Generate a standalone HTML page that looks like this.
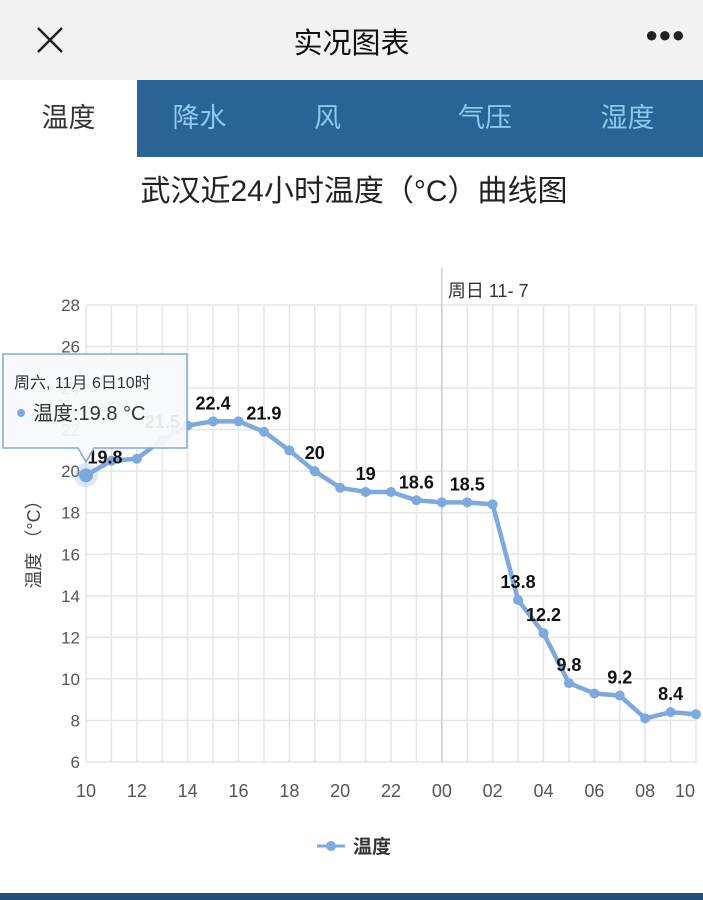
<!DOCTYPE html>
<html><head><meta charset="utf-8"><style>
body{margin:0;width:703px;height:900px;overflow:hidden;background:#fff;font-family:"Liberation Sans","Noto Sans CJK SC",sans-serif;position:relative}
.hdr{position:absolute;left:0;top:0;width:703px;height:80px;background:#f2f2f2}
.tabs{position:absolute;left:0;top:80px;width:703px;height:77px;background:#2a6496}
.tab{position:absolute;top:0;height:77px;line-height:77px;font-size:27px;color:#8ec7ef;text-align:center}
</style></head><body>
<div class="hdr">
<svg style="position:absolute;left:36px;top:26px" width="28" height="28"><path d="M2,2 L26,26 M26,2 L2,26" stroke="#222" stroke-width="2.5"/></svg>
<div style="position:absolute;left:0;width:703px;top:20px;text-align:center;font-size:29px;color:#111">实况图表</div>
<div style="position:absolute;left:645px;top:22px;font-size:22px;color:#222;letter-spacing:0px">●●●</div>
</div>
<div class="tabs">
<div class="tab" style="left:0;width:137px;background:#fff;color:#333">温度</div>
<div class="tab" style="left:137px;width:125px">降水</div>
<div class="tab" style="left:265px;width:125px">风</div>
<div class="tab" style="left:420px;width:130px">气压</div>
<div class="tab" style="left:565px;width:125px">湿度</div>
</div>
<div style="position:absolute;left:0;top:893px;width:703px;height:7px;background:#1f4f78"></div>
<svg id="c" width="703" height="900" style="position:absolute;left:0;top:0"></svg>
<script>
const hours=["10","11","12","13","14","15","16","17","18","19","20","21","22","23","00","01","02","03","04","05","06","07","08","09","10"];
const temps=[19.8,20.5,20.6,21.5,22.2,22.4,22.4,21.9,21.0,20.0,19.2,19.0,19.0,18.6,18.5,18.5,18.4,13.8,12.2,9.8,9.3,9.2,8.1,8.4,8.3];
const labeled=[0,3,5,7,9,11,13,15,17,18,19,21,23];
const yTicks=[6,8,10,12,14,16,18,20,22,24,26,28];
const xTickIdx=[0,2,4,6,8,10,12,14,16,18,20,22,24];
const svg=document.getElementById('c');const NS='http://www.w3.org/2000/svg';
const X0=86,X1=696,Y0=762,Y1=305;
const xs=i=>X0+(X1-X0)*i/(hours.length-1);
const ys=v=>Y0-(v-6)/(28-6)*(Y0-Y1);
function mk(t,a,txt){const e=document.createElementNS(NS,t);for(const k in a)e.setAttribute(k,a[k]);if(txt!=null)e.textContent=txt;svg.appendChild(e);return e;}
let e=mk('text',{x:354,y:201,'text-anchor':'middle','font-size':30,fill:'#222'},'武汉近24小时温度（°C）曲线图');


for(let i=0;i<hours.length;i++){e=mk('line',{x1:xs(i),x2:xs(i),y1:Y1,y2:Y0,stroke:'#e6e6e6','stroke-width':1.5});

}
yTicks.forEach(v=>{e=mk('line',{x1:X0,x2:X1,y1:ys(v),y2:ys(v),stroke:'#e6e6e6','stroke-width':1.5});


e=mk('text',{x:80,y:ys(v)+6,'text-anchor':'end','font-size':17,fill:'#555'},v);

});
e=mk('line',{x1:xs(14),x2:xs(14),y1:268,y2:Y0,stroke:'#ccc','stroke-width':1.5});


e=mk('text',{x:xs(14)+6,y:297,'font-size':18,fill:'#333'},'周日 11- 7');


xTickIdx.forEach(i=>{let x=xs(i);if(i===hours.length-1)x-=11;e=mk('text',{x:x,y:797,'text-anchor':'middle','font-size':18,fill:'#555'},hours[i]);

});
e=mk('text',{x:0,y:0,'font-size':18,fill:'#444','text-anchor':'middle',transform:'translate(40,540) rotate(-90)'},'温度 （°C）');


e=mk('polyline',{points:temps.map((v,i)=>xs(i)+','+ys(v)).join(' '),fill:'none',stroke:'#7ca9e0','stroke-width':4.5,'stroke-linejoin':'round'});


temps.forEach((v,i)=>{e=mk('circle',{cx:xs(i),cy:ys(v),r:i===0?7:5,fill:'#7ca9e0'});

});
e=mk('circle',{cx:xs(0),cy:ys(temps[0]),r:12,fill:'#7ca9e0','fill-opacity':0.25});


labeled.forEach(i=>{e=mk('text',{x:xs(i)+(i===0?19:0),y:ys(temps[i])-12,'text-anchor':'middle','font-size':18,'font-weight':'bold',fill:'#111'},temps[i]);

});
e=mk('path',{d:'M3,354 H187 V448 H94 L86,462 L78,448 H3 Z',fill:'#f8f9fb','fill-opacity':0.93,stroke:'#7ca9e0','stroke-width':1.5});


e=mk('text',{x:14,y:388,'font-size':16,fill:'#333'},'周六, 11月 6日10时');


e=mk('circle',{cx:21,cy:413,r:4,fill:'#7ca9e0'});


e=mk('text',{x:33,y:420,'font-size':20,fill:'#333'},'温度:'+temps[0]+' °C');


e=mk('line',{x1:317,x2:345,y1:846,y2:846,stroke:'#7ca9e0','stroke-width':3});


e=mk('circle',{cx:331,cy:846,r:5,fill:'#7ca9e0'});


e=mk('text',{x:353,y:853,'font-size':19,'font-weight':'bold',fill:'#333'},'温度');


</script>
</body></html>
